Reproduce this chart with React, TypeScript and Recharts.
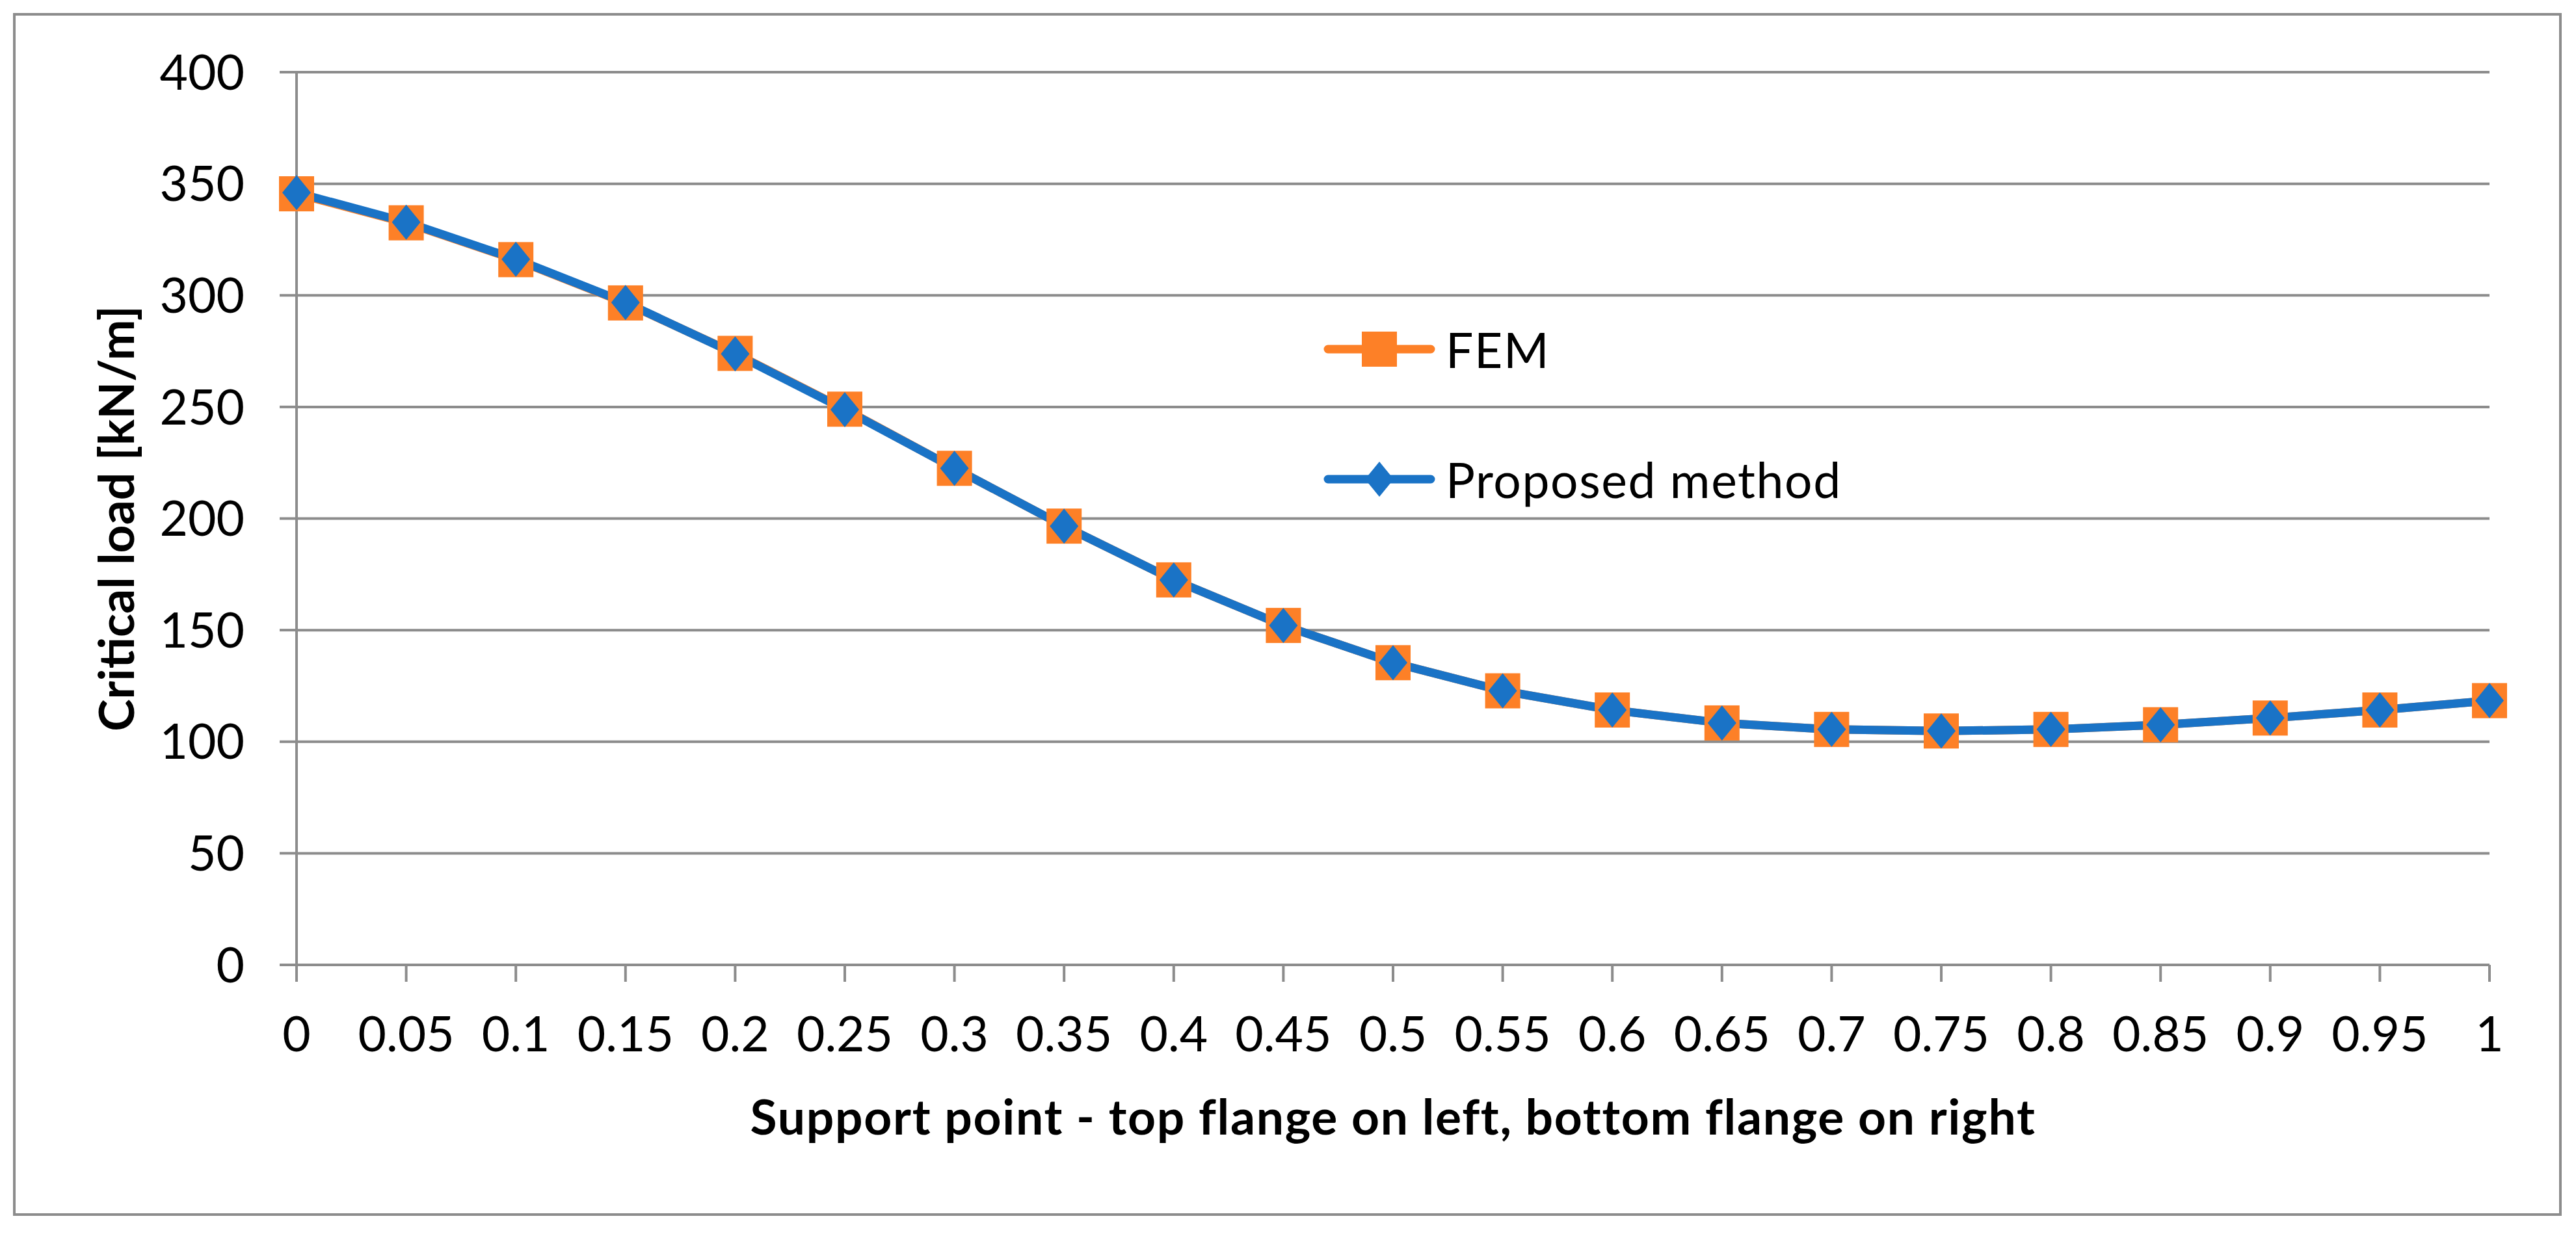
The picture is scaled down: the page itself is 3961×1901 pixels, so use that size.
import React from "react";
import {
  LineChart,
  Line,
  XAxis,
  YAxis,
  CartesianGrid,
  Legend,
  Label,
} from "recharts";

// support point position along the flange (0 = top flange, 1 = bottom flange)
const POSITIONS = [
  "0", "0.05", "0.1", "0.15", "0.2", "0.25", "0.3", "0.35", "0.4", "0.45",
  "0.5", "0.55", "0.6", "0.65", "0.7", "0.75", "0.8", "0.85", "0.9", "0.95", "1",
];

// critical load [kN/m]
const FEM = [
  345.5, 332.5, 316, 296.6, 274, 249, 222.5, 196.6, 172.5, 152.1,
  135.4, 122.8, 114.2, 108.4, 105.5, 104.8, 105.5, 107.6, 110.6, 114.2, 118.4,
];
const PROPOSED = [
  346, 332.8, 316.2, 296.8, 273.8, 248.8, 222.5, 196.6, 172.5, 152.1,
  135.4, 122.8, 114.2, 108.4, 105.5, 104.8, 105.5, 107.6, 110.6, 114.2, 118.4,
];

const Y_TICKS = [0, 50, 100, 150, 200, 250, 300, 350, 400];

const ORANGE = "#fd8027";
const BLUE = "#1a73c6";
const GRID = "#8c8c8c";
const FONT = "Lato, 'Liberation Sans', sans-serif";

const chartData = POSITIONS.map((x, i) => ({
  x,
  fem: FEM[i],
  proposed: PROPOSED[i],
}));

const SquareDot = (props: any) => {
  const { cx, cy, index } = props;
  if (cx == null || cy == null) return null;
  return <rect key={`s${index}`} x={cx - 27} y={cy - 27} width={54} height={54} fill={ORANGE} />;
};

const DiamondDot = (props: any) => {
  const { cx, cy, index } = props;
  if (cx == null || cy == null) return null;
  return (
    <polygon
      key={`d${index}`}
      points={`${cx},${cy - 27} ${cx + 22},${cy} ${cx},${cy + 27} ${cx - 22},${cy}`}
      fill={BLUE}
    />
  );
};

const LegendIcon = ({ color, shape }: { color: string; shape: "square" | "diamond" }) => (
  <svg width={172} height={60} style={{ display: "block" }}>
    <line x1={7} y1={30} x2={165} y2={30} stroke={color} strokeWidth={13} strokeLinecap="round" />
    {shape === "square" ? (
      <rect x={59} y={3} width={54} height={54} fill={color} />
    ) : (
      <polygon points="86,3 108,30 86,57 64,30" fill={color} />
    )}
  </svg>
);

const renderLegend = () => (
  <div style={{ fontFamily: FONT, fontSize: 75, color: "#000", letterSpacing: 1.6 }}>
    {[
      { name: "FEM", color: ORANGE, shape: "square" as const },
      { name: "Proposed method", color: BLUE, shape: "diamond" as const },
    ].map((item, i) => (
      <div
        key={item.name}
        style={{
          display: "flex",
          alignItems: "center",
          height: 100,
          marginTop: i === 0 ? 0 : 100,
          whiteSpace: "nowrap",
        }}
      >
        <LegendIcon color={item.color} shape={item.shape} />
        <span style={{ marginLeft: 16, lineHeight: "100px" }}>{item.name}</span>
      </div>
    ))}
  </div>
);

export default function App() {
  return (
    <div
      style={{
        position: "absolute",
        left: 0,
        top: 0,
        width: 3961,
        height: 1901,
        background: "#fff",
        fontFamily: FONT,
      }}
    >
      <div
        style={{
          position: "absolute",
          left: 20,
          top: 20,
          width: 3919,
          height: 1850,
          border: `4px solid ${GRID}`,
          boxSizing: "border-box",
        }}
      />
      <LineChart
        width={3961}
        height={1901}
        data={chartData}
        margin={{ top: 111, right: 133, bottom: 0, left: 0 }}
      >
        <CartesianGrid horizontal vertical={false} stroke={GRID} strokeWidth={4} />
        <XAxis
          dataKey="x"
          type="category"
          height={417}
          interval={0}
          tick={{ fontSize: 75, fill: "#000" }}
          tickSize={26}
          tickMargin={54}
          tickLine={{ stroke: GRID, strokeWidth: 4 }}
          axisLine={{ stroke: GRID, strokeWidth: 4 }}
        >
          <Label
            content={(p: any) => {
              const vb = p.viewBox || {};
              return (
                <text
                  x={vb.x + vb.width / 2}
                  y={vb.y + 261}
                  textAnchor="middle"
                  fontSize={75}
                  fontWeight="bold"
                  letterSpacing={1.7}
                  fill="#000"
                >
                  Support point - top flange on left, bottom flange on right
                </text>
              );
            }}
          />
        </XAxis>
        <YAxis
          type="number"
          domain={[0, 400]}
          ticks={Y_TICKS}
          interval={0}
          width={456}
          tick={{ fontSize: 75, fill: "#000" }}
          tickSize={26}
          tickMargin={54}
          tickLine={{ stroke: GRID, strokeWidth: 4 }}
          axisLine={{ stroke: GRID, strokeWidth: 4 }}
        >
          <Label
            content={(p: any) => {
              const vb = p.viewBox || {};
              const cy = vb.y + vb.height / 2;
              return (
                <text
                  x={206}
                  y={cy}
                  transform={`rotate(-90, 206, ${cy})`}
                  textAnchor="middle"
                  fontSize={75}
                  fontWeight="bold"
                  fill="#000"
                >
                  Critical load [kN/m]
                </text>
              );
            }}
          />
        </YAxis>
        <Legend
          layout="vertical"
          align="center"
          verticalAlign="middle"
          content={renderLegend}
          wrapperStyle={{ left: 2035, top: 487, width: "auto" }}
        />
        <Line
          dataKey="fem"
          name="FEM"
          type="linear"
          stroke={ORANGE}
          strokeWidth={13}
          strokeLinecap="round"
          strokeLinejoin="round"
          dot={SquareDot}
          activeDot={false}
          isAnimationActive={false}
        />
        <Line
          dataKey="proposed"
          name="Proposed method"
          type="linear"
          stroke={BLUE}
          strokeWidth={13}
          strokeLinecap="round"
          strokeLinejoin="round"
          dot={DiamondDot}
          activeDot={false}
          isAnimationActive={false}
        />
      </LineChart>
    </div>
  );
}
